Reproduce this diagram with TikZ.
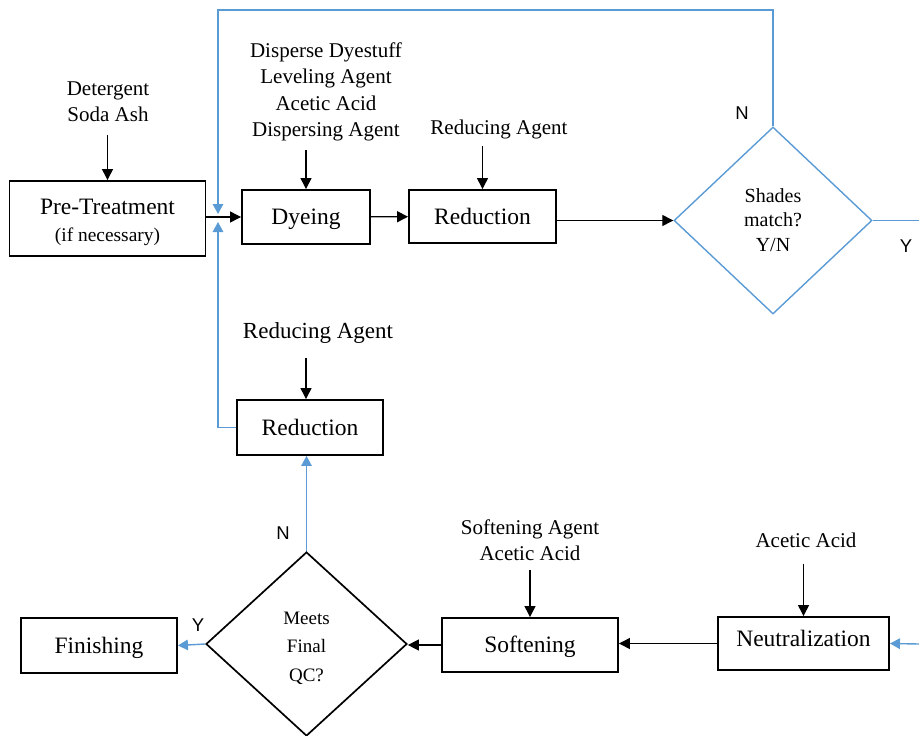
\documentclass[tikz,border=0pt]{standalone}
\usepackage{fontspec}
\setmainfont{Liberation Serif}
\newfontfamily\ynfont{Liberation Sans}
\usetikzlibrary{arrows.meta,shapes.geometric}
\definecolor{loopblue}{RGB}{91,155,213}
\begin{document}
\begin{tikzpicture}[x=1pt,y=-1pt,
  box/.style={draw,line width=1.9pt,inner sep=0pt,align=center,
    font=\fontsize{23.5}{26}\selectfont,text height=15.5pt,text depth=0pt},
  lbl/.style={inner sep=0pt,align=center,font=\fontsize{21}{26.3}\selectfont},
  decision/.style={diamond,inner sep=0pt,align=center,
    font=\fontsize{20}{25.5}\selectfont},
  yn/.style={inner sep=0pt,font=\ynfont\fontsize{18.5}{20}\selectfont},
  feed/.style={line width=1.3pt,-{Triangle[length=11pt,width=11pt]}},
  loop/.style={draw=loopblue,line width=1.4pt},
  looparrow/.style={loop,-{Triangle[length=10pt,width=10.5pt,fill=loopblue]}}
]
\useasboundingbox (0,0) rectangle (919,736);

% process boxes
\node[box,minimum width=196pt,minimum height=75pt,text height=,text depth=] (pre) at (107.5,218.5)
  {\rule{0pt}{24pt}Pre-Treatment\\[1pt]{\fontsize{19.4}{22}\selectfont (if necessary)}};
\node[box,minimum width=128pt,minimum height=54pt] (dye) at (306,217) {Dyeing};
\node[box,minimum width=147pt,minimum height=53pt] (redA) at (482.5,216.5) {Reduction};
\node[box,minimum width=146pt,minimum height=55pt] (redB) at (310,427.5) {Reduction};
\node[box,minimum width=156pt,minimum height=55pt] (fin) at (99,645.5) {Finishing};
\node[box,minimum width=176pt,minimum height=54pt] (soft) at (530,645) {Softening};
\node[box,minimum width=171pt,minimum height=53pt,text depth=9pt] (neut) at (803.5,643.5) {Neutralization};

% decisions
\node[decision,draw=loopblue,line width=1.4pt,minimum width=198pt,minimum height=187pt]
  (shades) at (773,220.5) {\raisebox{-2pt}{Shades}\\match?\\Y/N};
\node[decision,draw,line width=1.7pt,minimum width=201pt,minimum height=184pt,
  font=\fontsize{19}{27}\selectfont]
  (qc) at (306.5,644) {\rule{0pt}{22pt}Meets\\[1pt]Final\\[2pt]QC?};

% chemical inputs
\node[lbl] (inPre) at (108,102) {Detergent\\Soda Ash};
\node[lbl] (inDye) at (326,92) {Disperse Dyestuff\\Leveling Agent\\Acetic Acid\\Dispersing Agent};
\node[lbl] (inRedA) at (499,129) {Reducing Agent};
\node[lbl,font=\fontsize{23}{26}\selectfont] (inRedB) at (318,333) {Reducing Agent};
\node[lbl] (inSoft) at (530,540.5) {Softening Agent\\Acetic Acid};
\node[lbl] (inNeut) at (806,540) {Acetic Acid};

\draw[feed,shorten <=13pt] (pre.north |- inPre.south) -- (pre.north);
\draw[feed,shorten <=9pt] (dye.north |- inDye.south) -- (dye.north);
\draw[feed,shorten <=7.5pt] (redA.north |- inRedA.south) -- (redA.north);
\draw[feed,shorten <=14pt] ([xshift=-4pt]redB.north |- inRedB.south) -- ([xshift=-4pt]redB.north);
\draw[feed,shorten <=9pt] (soft.north |- inSoft.south) -- (soft.north);
\draw[feed,shorten <=16pt] (neut.north |- inNeut.south) -- (neut.north);

% main flow
\draw[feed] (pre.east |- dye.west) -- (dye.west);
\draw[feed] (dye) -- (redA);
\draw[feed] (redA.east |- shades.west) -- (shades.west);
\draw[feed] (neut.west) -- (neut.west -| soft.east);
\draw[feed] (soft.west) -- (soft.west -| qc.east);

% loops and decision outcomes
\coordinate (ctop) at (218,10);
\coordinate (jtop) at (218,214);
\coordinate (jbot) at (218,222);
\coordinate (exitR) at (919,220.5);
\coordinate (entryR) at (919,644);

\draw[looparrow] (shades.north) |- (ctop) -- (jtop);
\draw[looparrow] (redB.west) -| (jbot);
\draw[loop] (shades.east) -- (exitR);
\draw[looparrow] (entryR) -- (neut.east);
\draw[looparrow] (qc.north) -- (qc.north |- redB.south);
\draw[looparrow] (qc.west) -- (fin.east);

% decision labels
\node[yn] at (742,113) {N};
\node[yn] at (906,246) {Y};
\node[yn] at (283,533) {N};
\node[yn] at (198,625) {Y};
\end{tikzpicture}
\end{document}
